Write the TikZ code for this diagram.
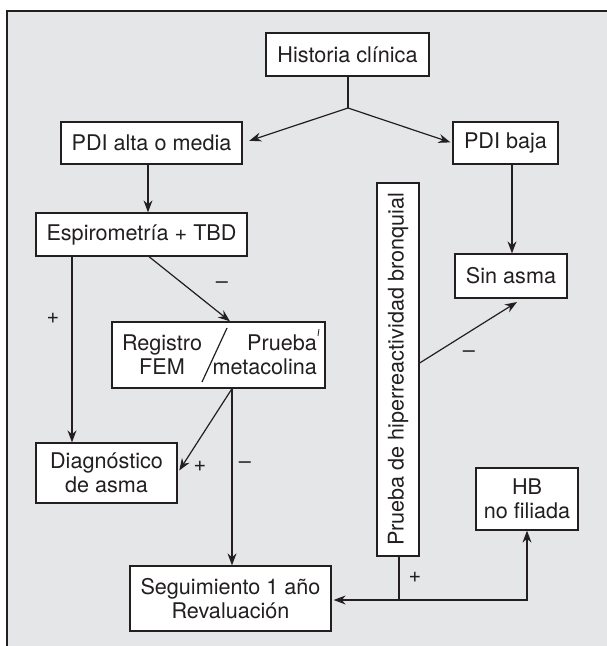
\documentclass[tikz,border=0pt]{standalone}
\usepackage{fontspec}
\setmainfont{TeX Gyre Heros}
\usetikzlibrary{arrows.meta}
\definecolor{bg}{HTML}{E5E6E8}
\definecolor{ink}{HTML}{231F20}
\begin{document}
\begin{tikzpicture}[x=1pt,y=-1pt,
  box/.style={draw=ink,fill=white,line width=1.3pt,inner sep=0pt,font=\fontsize{21.6}{24}\selectfont,text=ink,align=center},
  lbl/.style={font=\fontsize{21.6}{24}\selectfont,text=ink,inner sep=0pt},
  conn/.style={draw=ink,line width=1.2pt},
  arr/.style={conn,-{Stealth[length=12pt,width=9pt]}}]
\useasboundingbox (0,0) rectangle (607,646);
\fill[bg] (7,11) rectangle (607,646);
\draw[ink,line width=1.5pt] (7,646) -- (7,11) -- (607,11);

% boxes
\node[box,minimum width=163pt,minimum height=43pt] (hist) at (347.5,54.5) {Historia clínica};
\node[box,minimum width=181pt,minimum height=42pt] (alta) at (151.5,143) {PDI alta o media};
\node[box,minimum width=105pt,minimum height=42pt] (baja) at (505.5,143) {PDI baja};
\node[box,minimum width=211pt,minimum height=43pt] (esp) at (141.5,234.5) {Espirometría + TBD};
\node[box,minimum width=112pt,minimum height=44pt] (sin) at (511,276) {Sin asma};
\node[box,minimum width=213pt,minimum height=66pt] (reg) at (218.5,355) {};
\node[lbl,align=center] (regl) at (162,355) {Registro\\FEM};
\node[lbl,align=right,anchor=east] (regr) at (317,355) {Prueba\\metacolina};
\node[box,minimum width=141pt,minimum height=60pt] (diag) at (106.5,473) {Diagnóstico\\de asma};
\node[box,minimum width=102pt,minimum height=62pt] (hb) at (527,499) {HB\\no filiada};
\node[box,minimum width=201pt,minimum height=65pt] (seg) at (230.5,598.5) {Seguimiento 1 año\\Revaluación};
\node[box,rotate=90,minimum width=373pt,minimum height=42pt] (phb) at (398,369.5) {Prueba de hiperreactividad bronquial};

% slash inside registro box
\draw[conn] (227,328) -- (202,382);
\draw[ink,line width=0.8pt] (319,329) -- (318,336);

% helper coordinates
\coordinate (j) at (348,108);
\coordinate (c148) at (148,0);
\coordinate (c72) at (72,0);
\coordinate (c149) at (149,0);
\coordinate (c230) at (230,0);
\coordinate (c232) at (232,0);
\coordinate (c512) at (512,0);
\coordinate (r363) at (0,363);
\coordinate (sintip) at (517,302);
\coordinate (k) at (399,600);

% connectors
\draw[conn] (hist.south -| j) -- (j);
\draw[arr,shorten >=7pt] (j) -- (alta.east);
\draw[arr,shorten >=2pt] (j) -- (baja.west);
\draw[arr] (alta.south -| c148) -- (esp.north -| c148);
\draw[arr] (baja.south -| c512) -- (sin.north -| c512);
\draw[arr] (esp.south -| c72) -- (diag.north -| c72);
\draw[arr] (esp.south -| c149) -- (reg.north -| c230);
\draw[arr] (reg.south -| c232) -- (seg.north -| c232);
\draw[arr,shorten >=3pt] (reg.south -| c232) -- (diag.east);
\draw[arr] (phb.south |- r363) -- (sintip);
\draw[conn] (phb.west -| k) -- (k);
\draw[arr,shorten >=2pt] (k) -- (seg.east |- k);
\draw[arr] (k) -| (hb.south);

% labels
\node[lbl] (p1) at (53,318) {+};
\node[lbl] (m1) at (222,285) {–};
\node[lbl] (p2) at (200,466) {+};
\node[lbl] (m2) at (245,465) {–};
\node[lbl] (m3) at (469,354) {–};
\node[lbl] (p3) at (415,577) {+};
\end{tikzpicture}
\end{document}
